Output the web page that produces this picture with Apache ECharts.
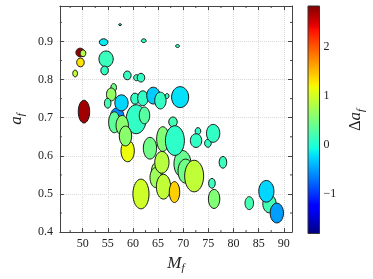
<!DOCTYPE html>
<html>
<head>
<meta charset="utf-8">
<script src="https://cdn.jsdelivr.net/npm/echarts@6/dist/echarts.min.js"></script>
<style>html,body{margin:0;padding:0;background:#fff;}#c{width:373px;height:279px;}</style>
</head>
<body>
<div id="c"></div>
<script>
// final mass M_f
const massF = [57.43,54.16,62.15,68.87,49.49,50.06,49.55,48.49,54.65,54.35,58.88,60.70,61.59,50.25,56.16,55.67,54.97,56.86,57.71,60.40,61.97,64.05,65.46,66.79,69.38,60.64,56.29,62.29,58.94,57.86,58.51,67.96,65.94,69.85,70.47,68.34,72.93,72.55,74.91,75.95,63.38,64.80,64.52,65.75,66.07,68.26,72.17,61.59,77.90,75.71,76.14,83.14,87.16,86.54,88.62];
// final spin a_f
const spinF = [0.944,0.898,0.902,0.888,0.871,0.869,0.845,0.816,0.854,0.824,0.811,0.805,0.805,0.716,0.779,0.761,0.738,0.704,0.739,0.750,0.751,0.758,0.745,0.757,0.754,0.696,0.688,0.706,0.613,0.680,0.652,0.689,0.644,0.579,0.560,0.640,0.665,0.640,0.633,0.659,0.620,0.558,0.543,0.583,0.519,0.505,0.547,0.500,0.583,0.528,0.487,0.476,0.474,0.507,0.450];
// uncertainty extent in M_f (full width)
const massSpread = [0.57,1.70,0.95,0.76,1.70,1.13,1.51,0.95,2.84,1.51,1.51,1.13,1.51,2.27,1.13,1.89,1.32,2.65,2.65,1.70,2.08,2.65,2.27,0.76,3.40,3.97,2.27,2.08,2.65,2.46,2.46,1.70,2.46,3.40,3.02,3.78,1.13,2.27,1.32,2.65,2.65,2.27,2.27,2.84,2.84,2.08,3.78,3.21,1.51,1.32,2.27,1.70,2.65,3.02,2.65];
// uncertainty extent in a_f (full height)
const spinSpread = [0.005,0.018,0.010,0.008,0.023,0.018,0.023,0.018,0.042,0.023,0.023,0.016,0.023,0.060,0.021,0.034,0.026,0.044,0.042,0.029,0.039,0.044,0.044,0.013,0.055,0.076,0.055,0.044,0.057,0.052,0.052,0.026,0.065,0.070,0.063,0.078,0.018,0.036,0.021,0.047,0.057,0.052,0.052,0.057,0.065,0.055,0.083,0.078,0.031,0.026,0.050,0.034,0.047,0.057,0.052];
// colour value Δa_f
const deltaA = [0.0,-0.15,0.1,0.1,2.75,0.85,1.3,0.9,0.15,0.12,0.12,0.12,0.12,2.7,0.45,0.65,0.2,-0.6,-0.25,0.1,0.1,-0.3,0.12,0.15,-0.2,0.1,0.35,0.3,1.15,0.6,0.6,0.2,0.55,0.4,0.45,0.08,0.1,0.1,0.1,0.1,0.45,0.75,0.7,0.85,0.9,1.4,0.9,0.98,0.15,0.15,0.55,0.2,0.2,-0.25,-0.5];

const xTicks = [50,55,60,65,70,75,80,85,90];
const yTicks = [0.4,0.5,0.6,0.7,0.8,0.9];
const xMinorTicks = [47.5,52.5,57.5,62.5,67.5,72.5,77.5,82.5,87.5];
const yMinorTicks = [0.45,0.55,0.65,0.75,0.85,0.95];
const cbarTicks = [-1,0,1,2];
const xRange = [45.46, 91.64];
const yRange = [0.4, 0.993];
const cbarRange = [-1.8, 2.83];

function interp(pts, t){
  for (let i=1;i<pts.length;i++){
    if (t<=pts[i][0]){const [x0,y0]=pts[i-1],[x1,y1]=pts[i];return y0+(y1-y0)*(t-x0)/(x1-x0);}
  }
  return pts[pts.length-1][1];
}
function jet(t){
  const r=interp([[0,0],[0.35,0],[0.66,1],[0.89,1],[1,0.5]],t);
  const g=interp([[0,0],[0.125,0],[0.375,1],[0.64,1],[0.91,0],[1,0]],t);
  const b=interp([[0,0.5],[0.11,1],[0.34,1],[0.65,0],[1,0]],t);
  const h=v=>Math.round(v*255).toString(16).padStart(2,'0');
  return '#'+h(r)+h(g)+h(b);
}
const N=64;
const jetColors=[]; const jetStops=[];
for(let i=0;i<=N;i++){const t=i/N;jetColors.push(jet(t));jetStops.push({offset:t,color:jet(t)});}

const data = massF.map((m,i)=>[m, spinF[i], massSpread[i], spinSpread[i], deltaA[i]]);
const minorData = xMinorTicks.map(v=>[v,'x']).concat(yMinorTicks.map(v=>[v,'y']));

const serif = 'Liberation Serif, DejaVu Serif, serif';
const axisColor = '#444';
const gridLine = {show:true, lineStyle:{color:'#d8d8d8', type:'dotted', width:1}};

const chart = echarts.init(document.getElementById('c'), null, {renderer:'canvas'});
chart.setOption({
  animation:false,
  backgroundColor:'#fff',
  grid:[
    {left:48, top:6, width:244, height:227.5},
    {left:308, top:6, width:11.5, height:227.5}
  ],
  visualMap:{type:'continuous', show:false, min:cbarRange[0], max:cbarRange[1], dimension:4, seriesIndex:0, inRange:{color:jetColors}},
  xAxis:[
    {gridIndex:0, type:'value', min:xRange[0], max:xRange[1], position:'bottom',
     axisLine:{show:true, lineStyle:{color:axisColor}},
     axisTick:{show:true, inside:true, length:4, customValues:xTicks, lineStyle:{color:axisColor}},
     axisLabel:{customValues:xTicks, fontFamily:serif, fontSize:12, color:'#222', margin:6},
     splitLine:gridLine,
     name:'{m|M}{s|f}', nameLocation:'middle', nameGap:18,
     nameTextStyle:{rich:{m:{fontFamily:serif, fontStyle:'italic', fontSize:17, color:'#222'}, s:{fontFamily:serif, fontStyle:'italic', fontSize:11, color:'#222', padding:[10,0,0,0]}}}},
    {gridIndex:0, type:'value', min:xRange[0], max:xRange[1], position:'top',
     axisLine:{show:true, lineStyle:{color:axisColor}},
     axisTick:{show:true, inside:true, length:4, customValues:xTicks, lineStyle:{color:axisColor}},
     axisLabel:{show:false}, splitLine:{show:false}},
    {gridIndex:1, type:'value', min:0, max:1, show:false}
  ],
  yAxis:[
    {gridIndex:0, type:'value', min:yRange[0], max:yRange[1], position:'left',
     axisLine:{show:true, lineStyle:{color:axisColor}},
     axisTick:{show:true, inside:true, length:4, customValues:yTicks, lineStyle:{color:axisColor}},
     axisLabel:{customValues:yTicks, formatter:v=>v.toFixed(1), fontFamily:serif, fontSize:12, color:'#222', margin:7},
     splitLine:gridLine,
     name:'{a|a}{s|f}', nameLocation:'middle', nameGap:31, nameRotate:90,
     nameTextStyle:{rich:{a:{fontFamily:serif, fontStyle:'italic', fontSize:17, color:'#222'}, s:{fontFamily:serif, fontStyle:'italic', fontSize:11, color:'#222', padding:[10,0,0,0]}}}},
    {gridIndex:0, type:'value', min:yRange[0], max:yRange[1], position:'right',
     axisLine:{show:true, lineStyle:{color:axisColor}},
     axisTick:{show:true, inside:true, length:4, customValues:yTicks, lineStyle:{color:axisColor}},
     axisLabel:{show:false}, splitLine:{show:false}},
    {gridIndex:1, type:'value', min:cbarRange[0], max:cbarRange[1], position:'right',
     axisLine:{show:false},
     axisTick:{show:true, inside:false, length:3, customValues:cbarTicks, lineStyle:{color:axisColor}},
     axisLabel:{customValues:cbarTicks, formatter:v=>v<0?'\u2212'+Math.abs(v):String(v), fontFamily:serif, fontSize:12, color:'#222', margin:4},
     splitLine:{show:false},
     name:'{d|\u0394}{a|a}{s|f}', nameLocation:'middle', nameGap:26, nameRotate:90,
     nameTextStyle:{rich:{d:{fontFamily:serif, fontSize:16, color:'#222'}, a:{fontFamily:serif, fontStyle:'italic', fontSize:17, color:'#222'}, s:{fontFamily:serif, fontStyle:'italic', fontSize:11, color:'#222', padding:[10,0,0,0]}}}}
  ],
  series:[
    {type:'custom', xAxisIndex:0, yAxisIndex:0, data:data, encode:{x:0,y:1}, clip:true,
     renderItem:function(params, api){
       const c = api.coord([api.value(0), api.value(1)]);
       const s = api.size([api.value(2), api.value(3)]);
       return {type:'ellipse', shape:{cx:c[0], cy:c[1], rx:s[0]/2, ry:s[1]/2},
         style:{fill:api.visual('color'), stroke:'#1a1a1a', lineWidth:1}};
     }},
    {type:'custom', xAxisIndex:2, yAxisIndex:2, data:[[0]], silent:true,
     renderItem:function(params, api){
       const p0 = api.coord([0, cbarRange[1]]);
       const p1 = api.coord([1, cbarRange[0]]);
       return {type:'rect', shape:{x:p0[0], y:p0[1], width:p1[0]-p0[0], height:p1[1]-p0[1]},
         style:{fill:new echarts.graphic.LinearGradient(0,1,0,0,jetStops), stroke:'#333', lineWidth:1}};
     }},
    {type:'custom', xAxisIndex:0, yAxisIndex:0, data:minorData, silent:true, clip:false,
     renderItem:function(params, api){
       const v = minorData[params.dataIndex];
       if (v[1]==='x'){
         const b = api.coord([v[0], yRange[0]]);
         const t = api.coord([v[0], yRange[1]]);
         return {type:'group', children:[
           {type:'line', shape:{x1:b[0], y1:b[1], x2:b[0], y2:b[1]-2}, style:{stroke:axisColor, lineWidth:1}},
           {type:'line', shape:{x1:t[0], y1:t[1], x2:t[0], y2:t[1]+2}, style:{stroke:axisColor, lineWidth:1}}]};
       } else {
         const l = api.coord([xRange[0], v[0]]);
         const r = api.coord([xRange[1], v[0]]);
         return {type:'group', children:[
           {type:'line', shape:{x1:l[0], y1:l[1], x2:l[0]+2, y2:l[1]}, style:{stroke:axisColor, lineWidth:1}},
           {type:'line', shape:{x1:r[0], y1:r[1], x2:r[0]-2, y2:r[1]}, style:{stroke:axisColor, lineWidth:1}}]};
       }
     }}
  ]
});
</script>
</body>
</html>
